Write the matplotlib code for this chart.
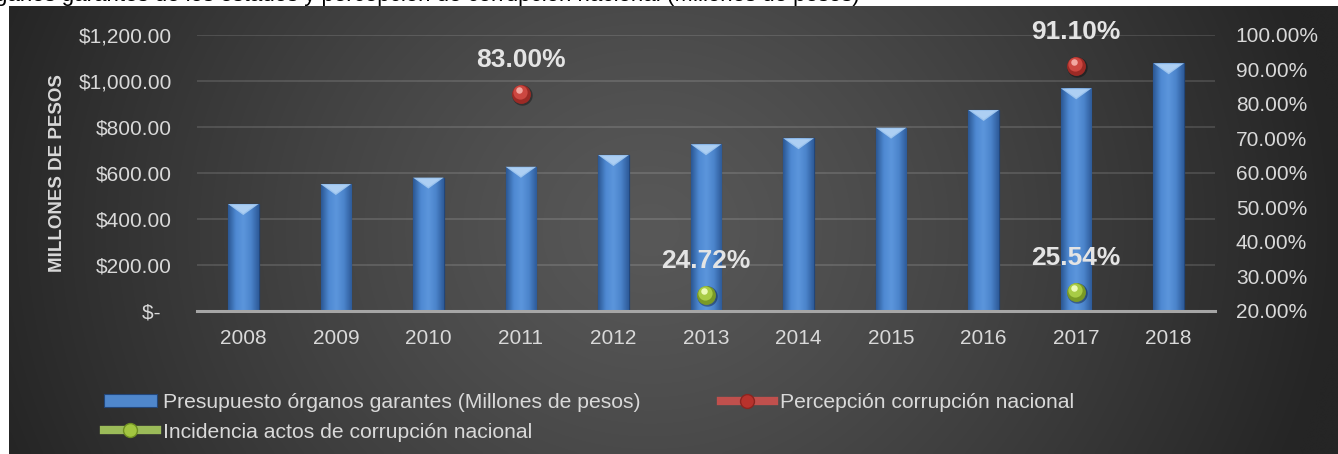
import numpy as np
import matplotlib
matplotlib.use("Agg")
import matplotlib.pyplot as plt
from matplotlib.patches import Polygon, Patch
from matplotlib.lines import Line2D
from matplotlib.colors import LinearSegmentedColormap
from matplotlib.transforms import ScaledTranslation

plt.rcParams["font.family"] = ["Liberation Sans", "DejaVu Sans"]

# ---- data -------------------------------------------------------------
years = ["2008", "2009", "2010", "2011", "2012", "2013",
         "2014", "2015", "2016", "2017", "2018"]
presupuesto = [465, 552, 580, 627, 678, 725, 751, 797, 874, 968, 1077]
nan = np.nan
percepcion = [nan, nan, nan, 83.00, nan, nan, nan, nan, nan, 91.10, nan]
incidencia = [nan, nan, nan, nan, nan, 24.72, nan, nan, nan, 25.54, nan]

left_ticks = [0, 200, 400, 600, 800, 1000, 1200]
right_ticks = [20, 30, 40, 50, 60, 70, 80, 90, 100]

label_bar = "Presupuesto órganos garantes (Millones de pesos)"
label_per = "Percepción corrupción nacional"
label_inc = "Incidencia actos de corrupción nacional"
title = "Presupuesto de los órganos garantes de los estados y percepción de corrupción nacional (Millones de pesos)"

# ---- figure -------------------------------------------------------------
W, H = 1338, 454
fig = plt.figure(figsize=(W / 100, H / 100), dpi=100, facecolor="white")

txt_col = "#d9d9d9"

# heading line running above the dark panel
fig.text(860 / W, 1 - 1.0 / H, title, ha="right", va="baseline",
         fontsize=16, color="black", zorder=-5)

# dark radial-gradient panel
bg = fig.add_axes([9 / W, 0, 1 - 9 / W, (H - 6) / H], zorder=0)
bg.axis("off")
gx = np.linspace(9, W, 400)
gy = np.linspace(6, H, 160)
X, Y = np.meshgrid(gx, gy)
d = np.sqrt(((X - 650) / 690) ** 2 + ((Y - 230) / 620) ** 2)
t = np.clip(d, 0, 1) ** 1.25
c0, c1 = 0x58 / 255, 0x25 / 255
val = c0 + (c1 - c0) * t
img = np.dstack([val, val, val])
bg.imshow(img, aspect="auto", extent=(0, 1, 0, 1), interpolation="bicubic")
bg.set_xlim(0, 1)
bg.set_ylim(0, 1)

# ---- main axes -----------------------------------------------------------
ax = fig.add_axes([197 / W, 1 - 311 / H, (1215 - 197) / W, (311 - 35) / H], zorder=1)
ax.patch.set_alpha(0)
x = np.arange(len(years))
ymax = 1200

bars = ax.bar(x, presupuesto, width=0.33, color="#4a80c6",
              edgecolor="#22467a", linewidth=0.8, zorder=3)

bar_cmap = LinearSegmentedColormap.from_list(
    "bevel", ["#2b5793", "#4e89d2", "#5c96dc", "#4b84cb", "#2e5b99"])
grad = np.linspace(0, 1, 64)[None, :]
px_to_data = ymax / (311 - 35)
bevel = 11 * px_to_data
for b in bars:
    x0, w, h = b.get_x(), b.get_width(), b.get_height()
    im = ax.imshow(grad, extent=(x0, x0 + w, 0, h), aspect="auto",
                   cmap=bar_cmap, zorder=3.1, interpolation="bicubic")
    im.set_clip_path(b)
    xc = x0 + w / 2
    ax.add_patch(Polygon([(x0, h), (x0 + w, h), (xc, h - bevel)],
                         closed=True, facecolor="#9cc4ee", edgecolor="none",
                         zorder=3.2))
    ax.add_patch(Polygon([(x0 + w * 0.12, h - bevel * 0.1), (x0 + w * 0.88, h - bevel * 0.1),
                          (xc, h - bevel * 0.85)],
                         closed=True, facecolor="#b9d7f7", edgecolor="none",
                         zorder=3.3, alpha=0.6))
    ax.add_patch(b)

ax.set_xlim(-0.5, len(years) - 0.5)
ax.set_ylim(0, ymax)
ax.set_yticks(left_ticks)
ax.set_yticklabels(["$-  " if v == 0 else f"${v:,.2f}" for v in left_ticks])
ax.set_xticks(x)
ax.set_xticklabels(years)
ax.yaxis.grid(True, color="white", alpha=0.13, linewidth=1.4)
ax.set_axisbelow(True)
for s in ["top", "left", "right"]:
    ax.spines[s].set_visible(False)
ax.spines["bottom"].set_color("#a6a6a6")
ax.spines["bottom"].set_linewidth(2.2)
ax.spines["bottom"].set_zorder(4)
ax.tick_params(axis="y", length=0, pad=18, labelsize=15, labelcolor=txt_col)
ax.tick_params(axis="x", length=0, pad=13.3, labelsize=15, labelcolor=txt_col)
ax.set_ylabel("MILLONES DE PESOS", fontsize=13.5, fontweight="bold", color=txt_col)
ax.yaxis.set_label_coords((66 - 197) / 1018, 0.5)

# ---- secondary axis: percentages ----------------------------------------
ax2 = ax.twinx()
ax2.set_zorder(2)
ax2.patch.set_alpha(0)
ax2.set_ylim(20, 100)
ax2.set_yticks(right_ticks)
ax2.set_yticklabels([f"{v:.2f}%" for v in right_ticks])
for s in ax2.spines.values():
    s.set_visible(False)
ax2.tick_params(axis="y", length=0, pad=15, labelsize=15, labelcolor=txt_col)


def spheres(axis, xs, ys, base, mid, hi):
    xs = np.asarray(xs, float)
    ys = np.asarray(ys, float)
    m = ~np.isnan(ys)
    xs, ys = xs[m], ys[m]
    off = lambda dx, dy: axis.transData + ScaledTranslation(dx / 100, dy / 100, fig.dpi_scale_trans)
    axis.scatter(xs, ys, s=215, color="black", alpha=0.35, linewidths=0,
                 transform=off(1, -1.5), zorder=5)
    axis.scatter(xs, ys, s=185, color=base, linewidths=0, zorder=6)
    axis.scatter(xs, ys, s=105, color=mid, linewidths=0,
                 transform=off(-1, 1.5), zorder=7)
    axis.scatter(xs, ys, s=22, color=hi, linewidths=0,
                 transform=off(-2, 4), zorder=8)
    for xi, yi in zip(xs, ys):
        axis.annotate(f"{yi:.2f}%", (xi, yi), xytext=(0, 24.5),
                      textcoords="offset points", ha="center", va="center",
                      fontsize=19, fontweight="bold", color="#e4e4e4", zorder=9)


spheres(ax2, x, percepcion, "#9c2a25", "#cc4740", "#f2a7a0")
spheres(ax2, x, incidencia, "#7a9a26", "#a8cb45", "#ecfab8")

# ---- legend ---------------------------------------------------------------
h_bar = Patch(facecolor="#4f87cc", edgecolor="#22467a", linewidth=0.8)
h_per = Line2D([], [], color="#c0504d", linewidth=6, marker="o", markersize=10,
               markerfacecolor="#b8322c", markeredgecolor="#8a2520")
h_inc = Line2D([], [], color="#9bbb59", linewidth=6, marker="o", markersize=10,
               markerfacecolor="#a2c640", markeredgecolor="#6f8f22")
fig.legend(handles=[h_bar, h_inc, h_per], labels=[label_bar, label_inc, label_per],
           ncol=2, loc="upper left", bbox_to_anchor=(104 / W, 1 - 393 / H),
           frameon=False, fontsize=15.2, labelcolor=txt_col, handlelength=2.5,
           handleheight=0.6, handletextpad=0.3, columnspacing=3.8,
           labelspacing=0.5, borderpad=0, borderaxespad=0)

fig.savefig("out.png", dpi=100, facecolor="white")
